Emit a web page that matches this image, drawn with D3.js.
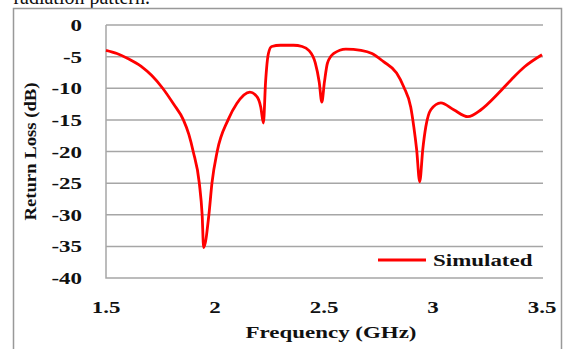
<!DOCTYPE html>
<html>
<head>
<meta charset="utf-8">
<script src="https://cdn.jsdelivr.net/npm/d3@7"></script>
<style>
  body { margin: 0; background: #fff; }
  svg text { font-family: "Liberation Serif", "Times New Roman", serif; }
</style>
</head>
<body>
<svg id="chart" width="563" height="349"></svg>
<script>
// frequency (GHz) and simulated return loss (dB)
const freq = [1.5, 1.55, 1.6, 1.66, 1.71, 1.76, 1.81, 1.855, 1.88, 1.9, 1.928, 1.941, 1.948,
  1.972, 1.986, 2.01, 2.06, 2.1, 2.16, 2.194, 2.21, 2.222, 2.232, 2.245, 2.26, 2.3,
  2.36, 2.4, 2.43, 2.46, 2.478, 2.49, 2.502, 2.516, 2.545, 2.6, 2.67, 2.72, 2.773,
  2.833, 2.866, 2.898, 2.912, 2.925, 2.939, 2.953, 2.967, 2.99, 3.036, 3.095, 3.16,
  3.22, 3.3, 3.36, 3.42, 3.5];
const simulated = [-4, -4.5, -5.3, -6.5, -8, -10, -12.5, -15, -17.3, -20, -25, -30, -35.2,
  -30, -25, -20, -15, -12.4, -10.6, -11.4, -13, -15.5, -9, -4.5, -3.4, -3.2,
  -3.2, -3.4, -4, -6, -9, -12.2, -9, -6, -4.5, -3.8, -4, -4.5, -5.8,
  -7.6, -9.8, -13, -16.1, -19.7, -24.8, -19.7, -16.1, -13.4, -12.3, -13.4, -14.5,
  -13.4, -10.8, -8.6, -6.6, -4.7];
const xTicks = [1.5, 2, 2.5, 3, 3.5];
const yTicks = [0, -5, -10, -15, -20, -25, -30, -35, -40];

const svg = d3.select("#chart");
const mLeft = 106, mRight = 542, mTop = 25, mBottom = 278;
const sx = 1.35; // the figure's lettering is stretched sideways

const x = d3.scaleLinear().domain([1.5, 3.5]).range([mLeft, mRight]);
const y = d3.scaleLinear().domain([0, -40]).range([mTop, mBottom]);

// bit of the surrounding page text, clipped at the top
svg.append("text")
    .attr("x", 150).attr("y", 4)
    .attr("text-anchor", "end")
    .style("font-size", "20px")
    .attr("fill", "#111")
    .text("radiation pattern.");

// outer frame
svg.append("path")
    .attr("d", "M13.5,349 V8.5 H561.5 V349")
    .attr("fill", "none")
    .attr("stroke", "#999")
    .attr("stroke-width", 1.5);

function label(g, px, py, txt, anchor, size, scale) {
    g.append("text")
        .attr("transform", `translate(${px},${py}) scale(${scale},1)`)
        .attr("text-anchor", anchor)
        .style("font-size", size + "px")
        .style("font-weight", "bold")
        .attr("fill", "#111")
        .text(txt);
}

// gridlines
svg.append("g")
    .selectAll("line")
    .data(yTicks.slice(0, -1))
    .join("line")
    .attr("x1", mLeft).attr("x2", mRight + 1)
    .attr("y1", d => y(d)).attr("y2", d => y(d))
    .attr("stroke", "#a6a6a6")
    .attr("stroke-width", 1.5);

// axis lines
svg.append("path")
    .attr("d", `M${mLeft},${mTop} V${mBottom} H${mRight + 1}`)
    .attr("fill", "none")
    .attr("stroke", "#a6a6a6")
    .attr("stroke-width", 1.5);

// tick labels
const labels = svg.append("g");
yTicks.forEach(t => label(labels, 82, y(t) + 6, t, "end", 17, sx));
xTicks.forEach(t => label(labels, x(t), 313, t, "middle", 17, sx));

label(svg, 331, 338, "Frequency (GHz)", "middle", 17, sx);

svg.append("text")
    .attr("transform", `translate(36,${(mTop + mBottom) / 2}) rotate(-90) scale(1.1,1)`)
    .attr("text-anchor", "middle")
    .style("font-size", "17px")
    .style("font-weight", "bold")
    .attr("fill", "#111")
    .text("Return Loss (dB)");

// the curve
const line = d3.line()
    .x((d, i) => x(freq[i]))
    .y(d => y(d))
    .curve(d3.curveMonotoneX);

svg.append("path")
    .datum(simulated)
    .attr("d", line)
    .attr("fill", "none")
    .attr("stroke", "#ff0000")
    .attr("stroke-width", 2.8)
    .attr("stroke-linejoin", "round");

// legend
svg.append("line")
    .attr("x1", 378).attr("x2", 426)
    .attr("y1", 260).attr("y2", 260)
    .attr("stroke", "#ff0000")
    .attr("stroke-width", 2.8);
label(svg, 433, 266, "Simulated", "start", 17, sx);
</script>
</body>
</html>
